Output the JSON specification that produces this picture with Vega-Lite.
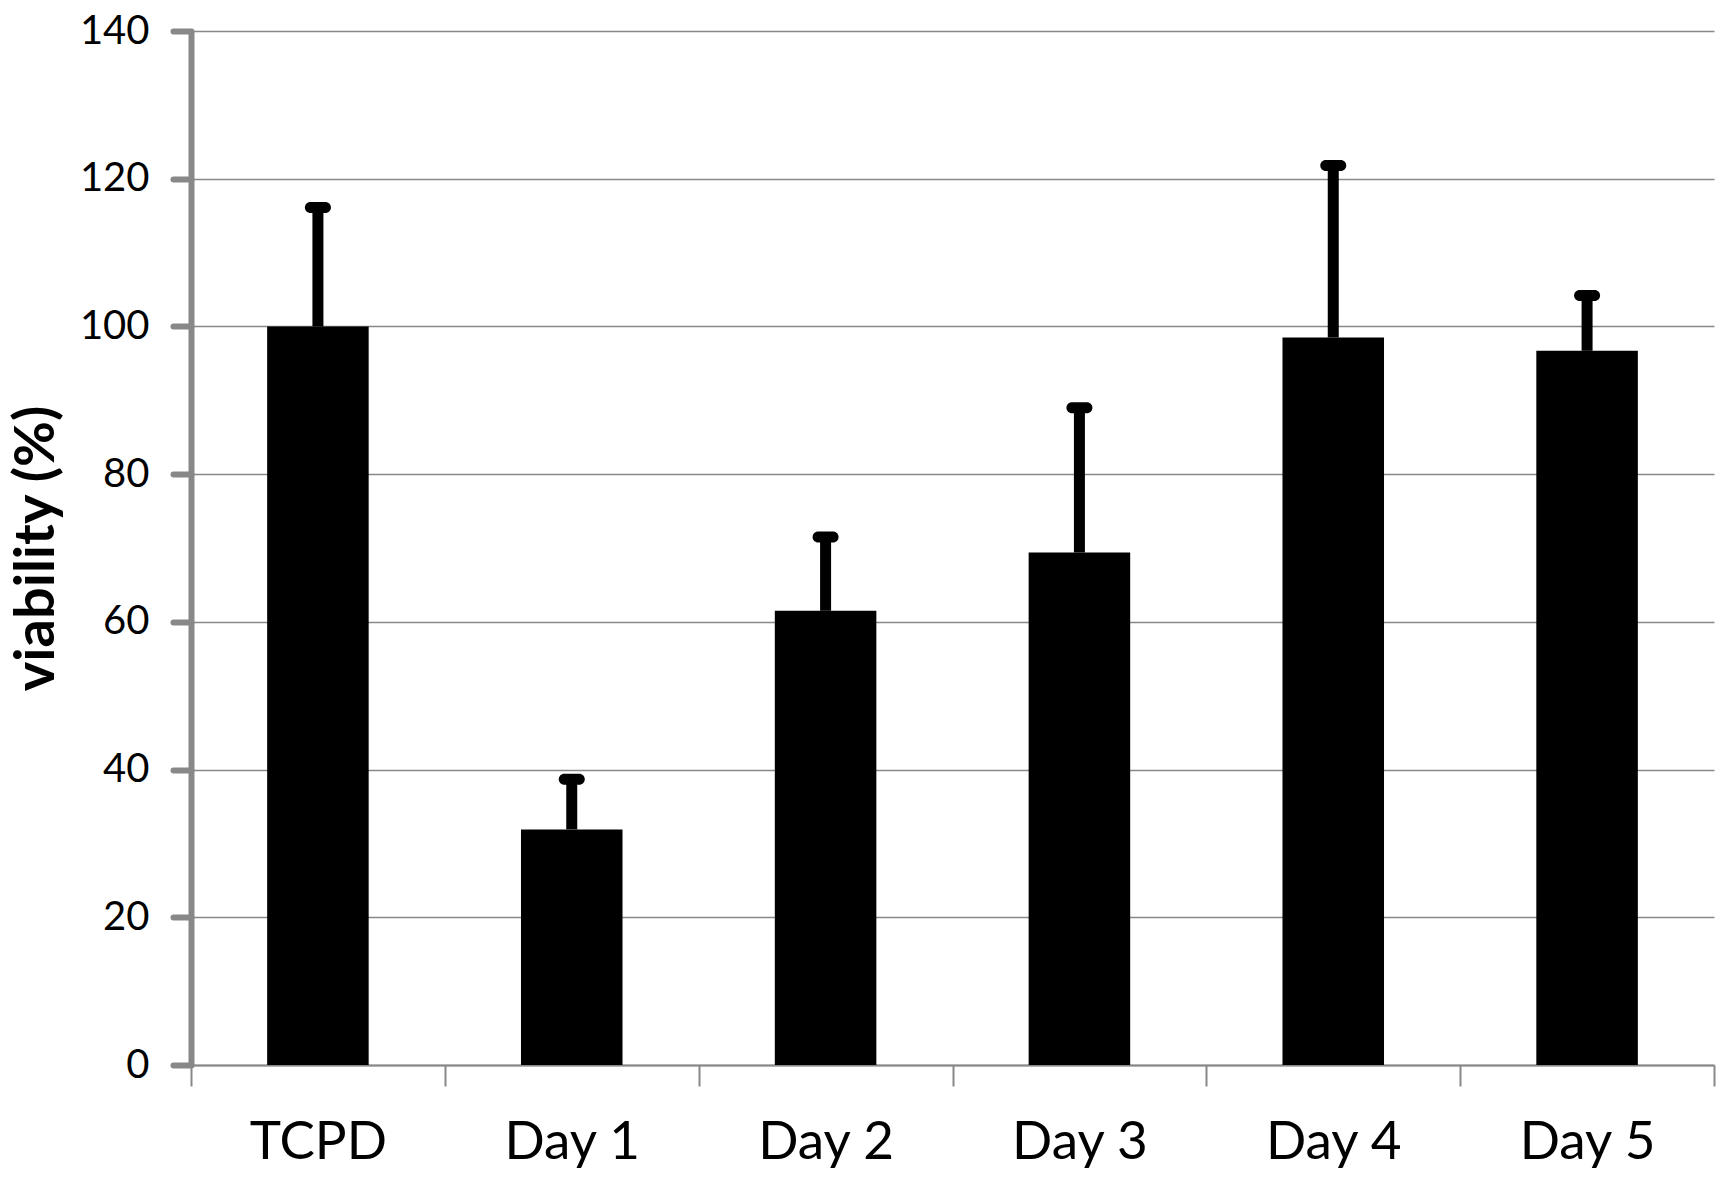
{
  "$schema": "https://vega.github.io/schema/vega-lite/v6.json",
  "autosize": {"type": "none"},
  "width": 1523,
  "height": 1034,
  "padding": {"left": 191, "top": 31, "right": 11, "bottom": 119},
  "background": "white",
  "config": {
    "view": {"stroke": null},
    "font": "Lato"
  },
  "data": {
    "values": [
      {"group": "TCPD", "viability": 100, "upper": 116.1},
      {"group": "Day 1", "viability": 31.9, "upper": 38.7},
      {"group": "Day 2", "viability": 61.5, "upper": 71.5},
      {"group": "Day 3", "viability": 69.4, "upper": 89.0},
      {"group": "Day 4", "viability": 98.5, "upper": 121.8},
      {"group": "Day 5", "viability": 96.7, "upper": 104.2}
    ]
  },
  "encoding": {
    "x": {
      "field": "group",
      "type": "nominal",
      "sort": null,
      "scale": {"paddingInner": 0, "paddingOuter": 0},
      "axis": {
        "title": null,
        "labelAngle": 0,
        "labelFontSize": 53,
        "labelColor": "black",
        "labelPadding": 30,
        "domainColor": "#888888",
        "domainWidth": 2,
        "tickColor": "#888888",
        "tickWidth": 2,
        "tickSize": 21,
        "tickBand": "extent",
        "grid": false
      }
    }
  },
  "layer": [
    {
      "mark": {"type": "bar", "color": "black", "width": {"band": 0.4}},
      "encoding": {
        "y": {
          "field": "viability",
          "type": "quantitative",
          "scale": {"domain": [0, 140], "nice": false},
          "axis": {
            "title": "viability (%)",
            "titleFontSize": 56,
            "titleFontWeight": "bold",
            "titleColor": "black",
            "titlePadding": 14,
            "values": [0, 20, 40, 60, 80, 100, 120, 140],
            "labelFontSize": 40,
            "labelColor": "black",
            "labelPadding": 24,
            "domainColor": "#888888",
            "domainWidth": 6,
            "tickColor": "#888888",
            "tickWidth": 6,
            "tickSize": 18,
            "tickCap": "round",
            "gridColor": "#888888",
            "gridWidth": 1.5,
            "grid": true
          }
        }
      }
    },
    {
      "mark": {"type": "rule", "color": "black", "strokeWidth": 11},
      "encoding": {
        "y": {"field": "viability", "type": "quantitative"},
        "y2": {"field": "upper"}
      }
    },
    {
      "mark": {"type": "tick", "color": "black", "opacity": 1, "size": 26, "thickness": 11, "cornerRadius": 5.5},
      "encoding": {
        "y": {"field": "upper", "type": "quantitative"}
      }
    }
  ]
}
